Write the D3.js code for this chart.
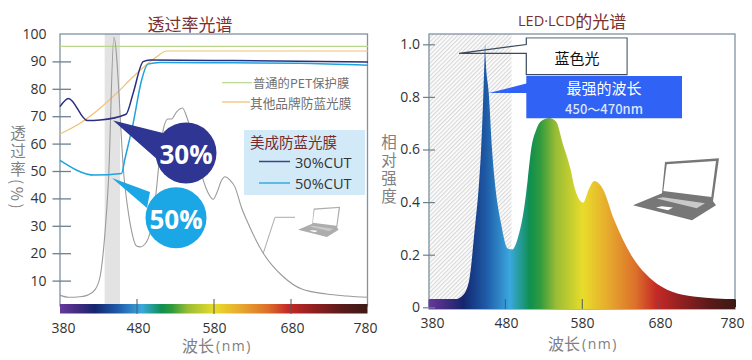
<!DOCTYPE html>
<html>
<head>
<meta charset="utf-8">
<script src="https://cdn.jsdelivr.net/npm/d3@7"></script>
<style>
  html, body { margin: 0; padding: 0; background: #fff; }
  svg { display: block; }
  text { font-family: "Noto Sans CJK SC", "Noto Sans", sans-serif; }
  .num { font-family: "Open Sans", sans-serif; }
  .axis text { font-family: "Open Sans", sans-serif; font-size: 14px; fill: #333; }
  .axis path { display: none; }
</style>
</head>
<body>
<svg id="chart" width="752" height="360"></svg>
<script>
// Tick labels
const waveTicks = [380, 480, 580, 680, 780];
const transTicks = [10, 20, 30, 40, 50, 60, 70, 80, 90, 100];
const intensityTicks = [0, 0.2, 0.4, 0.6, 0.8, 1.0];

// Transmittance chart, values
const pcWave = [380, 391, 406, 416, 425, 432, 438, 443, 450, 463.5, 471, 479.6, 484, 492.5, 501, 505.5, 507.7, 514, 520, 525, 531.5, 539, 544.5, 551, 557.5, 566, 572.6, 579, 583.5, 590, 594, 600.8, 607, 616, 622.5, 644, 670, 694, 726, 752, 780];
const pcValues = [4.7, 3.9, 4.1, 4.7, 6.5, 11.4, 26, 46.7, 98.8, 46.7, 31, 22.6, 22.3, 24.2, 33.3, 44, 50.4, 65, 69, 69, 71.6, 73, 69.8, 63.8, 56.6, 46.7, 41.9, 39.7, 41.9, 46.7, 47.9, 46.7, 44.3, 36.4, 32, 20, 11.4, 6.9, 5.1, 4.4, 3.9];

const cut30Wave = [380, 391, 415.5, 432, 465.7, 475, 488, 497, 605, 780];
const cut30Values = [73.5, 76.5, 68.4, 68.6, 70.7, 78.4, 89.9, 90.5, 90.3, 89.8];

const cut50Wave = [380, 425, 460, 464, 475, 486, 494, 510, 605, 690, 780];
const cut50Values = [53.9, 48.5, 49.1, 54, 67.4, 83.2, 89, 89.6, 89.5, 89.3, 88.6];

const otherWave = [380, 406, 432, 453.6, 475, 505.5, 518.5, 780];
const otherValues = [63.5, 67.4, 72.9, 78.4, 84.4, 91.7, 93.8, 93.8];

const petWave = [380, 780];
const petValues = [95.5, 95.5];

// LED-LCD spectrum
const ledWave = [380, 414, 425, 433, 440, 446, 448.4, 451.4, 452.8, 453.6, 454.4, 458.4, 462.7, 466, 474.4, 483, 489, 496, 504.7, 509, 513.4, 520, 526, 537, 546, 554.5, 565, 569.6, 581, 589, 595.6, 606.5, 621.6, 645, 671, 697, 727.6, 780];
const ledValues = [0.03, 0.03, 0.047, 0.104, 0.294, 0.484, 0.598, 0.814, 0.94, 1.0, 0.94, 0.814, 0.598, 0.484, 0.319, 0.224, 0.22, 0.262, 0.383, 0.484, 0.598, 0.674, 0.706, 0.72, 0.706, 0.624, 0.522, 0.459, 0.398, 0.452, 0.48, 0.452, 0.332, 0.192, 0.104, 0.059, 0.04, 0.03];

// Rainbow colours along the wavelength axis
const rainbowWave = [380, 399, 425, 455, 486, 512, 525, 546, 581, 616, 650, 676, 711, 746, 780];
const rainbowColors = ['#643a9c', '#4b2d85', '#14256e', '#1e5ba8', '#3ba8de', '#0f8f50', '#2f9a3e', '#9abd35', '#e9dc2b', '#e6a62e', '#dc6f2a', '#c52a26', '#8e1f20', '#5a1a1a', '#3d1a15'];

const colors = { pc: '#9a9a9a', cut30: '#2b2f80', cut50: '#1ea3dd', other: '#efc073', pet: '#b9d68c', frame: '#7e93a3', tick: '#6e8090', title: '#7a3030', label: '#808080' };

const svg = d3.select('#chart');
const defs = svg.append('defs');

// Escalas
const xLeft = d3.scaleLinear().domain([380, 780]).range([60, 368]);
const yLeft = d3.scaleLinear().domain([0, 100]).range([308, 34]);
const xRight = d3.scaleLinear().domain([380, 780]).range([428.5, 736]);
const yRight = d3.scaleLinear().domain([0, 1]).range([307.3, 44.3]);

function addGradient(id, x) {
  const grad = defs.append('linearGradient')
    .attr('id', id)
    .attr('gradientUnits', 'userSpaceOnUse')
    .attr('x1', x(380)).attr('x2', x(780)).attr('y1', 0).attr('y2', 0);
  rainbowWave.forEach((w, i) => {
    grad.append('stop')
      .attr('offset', (w - 380) / 400)
      .attr('stop-color', rainbowColors[i]);
  });
}
addGradient('rainbowLeft', xLeft);
addGradient('rainbowRight', xRight);

const hatch = defs.append('pattern')
  .attr('id', 'hatch')
  .attr('width', 3).attr('height', 3)
  .attr('patternUnits', 'userSpaceOnUse')
  .attr('patternTransform', 'rotate(-45)');
hatch.append('rect').attr('width', 3).attr('height', 3).attr('fill', '#fff');
hatch.append('rect').attr('width', 3).attr('height', 1.3).attr('fill', '#d9d9d9');

function zip(wave, values) {
  return wave.map((w, i) => [w, values[i]]);
}

function drawFrame(x0, y0, x1, y1) {
  svg.append('rect')
    .attr('x', x0).attr('y', y0)
    .attr('width', x1 - x0).attr('height', y1 - y0)
    .attr('fill', 'none')
    .attr('stroke', colors.frame)
    .attr('stroke-width', 1.3);
}

// Etiqueta vertical como un solo texto
function drawVerticalLabel(label, x, y) {
  svg.append('text')
    .attr('x', x).attr('y', y)
    .style('writing-mode', 'vertical-rl')
    .style('letter-spacing', '2.5px')
    .attr('font-size', 15.5)
    .attr('fill', colors.label)
    .text(label);
}

function drawWaveLabel(x, y) {
  const t = svg.append('text')
    .attr('x', x).attr('y', y)
    .attr('dominant-baseline', 'central')
    .attr('font-size', 16)
    .attr('fill', colors.label);
  t.append('tspan').text('波长');
  t.append('tspan')
    .attr('dx', 2)
    .style('font-family', '"Open Sans", sans-serif')
    .style('letter-spacing', '1.5px')
    .attr('font-size', 14)
    .text('(nm)');
}

function drawWaveTicks(x, barTop, barBottom, labelXs) {
  const axis = svg.append('g')
    .attr('class', 'axis')
    .attr('transform', `translate(0,${barBottom})`)
    .call(d3.axisBottom(x).tickValues(waveTicks).tickSize(0).tickPadding(8).tickFormat(d3.format('d')));
  axis.selectAll('line').remove();
  axis.selectAll('text').attr('x', (d, i) => labelXs[i] - x(d)).attr('dy', '0.75em');
  svg.selectAll(null)
    .data(waveTicks.slice(1, 4))
    .enter()
    .append('line')
    .attr('x1', d => x(d)).attr('x2', d => x(d))
    .attr('y1', barTop - 5).attr('y2', barBottom)
    .attr('stroke', '#4a5a68')
    .attr('stroke-width', 1);
}

function drawLaptop(px, py, k, body, screen) {
  const g = svg.append('g').attr('transform', `translate(${px},${py}) scale(${k})`);
  g.append('path').attr('fill', body).attr('d', 'M32 3.7L86 0L80 43L83 47L59 62L0 47L29 35Z');
  g.append('path').attr('fill', screen).attr('d', 'M33.7 6L83 2.7L78.3 38.7L30.3 32.7Z');
  g.append('path').attr('fill', '#c9c9c9').attr('d', 'M23.7 40.3L30 39L72 45L63.7 50Z');
  g.append('path').attr('fill', screen).attr('d', 'M23 49.3L28.7 48L40 49.3L35 52Z');
}

// ---- Transmittance chart ----
svg.append('rect')
  .attr('x', xLeft(438)).attr('y', 34)
  .attr('width', xLeft(458) - xLeft(438)).attr('height', 270)
  .attr('fill', '#e3e3e3');

drawFrame(60, 34, 367.5, 306);

svg.append('rect')
  .attr('x', 60).attr('y', 304)
  .attr('width', 307.5).attr('height', 9.5)
  .attr('fill', 'url(#rainbowLeft)');

const lineLeft = d3.line()
  .x(d => xLeft(d[0]))
  .y(d => yLeft(d[1]))
  .curve(d3.curveMonotoneX);

const leftSeries = [
  { data: zip(petWave, petValues), color: colors.pet, width: 1.2 },
  { data: zip(otherWave, otherValues), color: colors.other, width: 1.2 },
  { data: zip(pcWave, pcValues), color: colors.pc, width: 1.1 },
  { data: zip(cut50Wave, cut50Values), color: colors.cut50, width: 1.5 },
  { data: zip(cut30Wave, cut30Values), color: colors.cut30, width: 1.5 }
];
leftSeries.forEach(s => {
  svg.append('path')
    .datum(s.data)
    .attr('d', lineLeft)
    .attr('fill', 'none')
    .attr('stroke', s.color)
    .attr('stroke-width', s.width);
});

const leftAxis = svg.append('g')
  .attr('class', 'axis')
  .attr('transform', 'translate(71,0)')
  .call(d3.axisLeft(yLeft).tickValues(transTicks).tickSize(18.5).tickPadding(6));
leftAxis.selectAll('line').attr('stroke', colors.tick).attr('stroke-width', 1.3);
leftAxis.selectAll('.tick').filter(d => d === 100).select('line').remove();

drawWaveTicks(xLeft, 304, 314, [63, 138, 214, 292, 365]);

// Bocadillos 30% y 50%
function drawBubble(cx, cy, tip, base1, base2, color, label) {
  svg.append('path')
    .attr('d', `M${tip[0]} ${tip[1]}L${base1[0]} ${base1[1]}L${base2[0]} ${base2[1]}Z`)
    .attr('fill', color);
  svg.append('circle').attr('cx', cx).attr('cy', cy).attr('r', 30.5).attr('fill', color);
  svg.append('text')
    .attr('class', 'num')
    .attr('x', cx).attr('y', cy + 1)
    .attr('text-anchor', 'middle')
    .attr('dominant-baseline', 'central')
    .attr('font-size', 26)
    .attr('font-weight', 700)
    .attr('fill', '#fff')
    .text(label);
}
drawBubble(186, 153, [xLeft(449), yLeft(68.4)], [163, 133], [158, 160], '#2e3592', '30%');
drawBubble(176, 217.7, [xLeft(447.5), yLeft(47.4)], [150, 192], [147, 208], '#1ba6e6', '50%');

// Leyenda superior
svg.append('line').attr('x1', 222).attr('x2', 252).attr('y1', 82.7).attr('y2', 82.7).attr('stroke', colors.pet).attr('stroke-width', 1.2);
svg.append('line').attr('x1', 222).attr('x2', 250).attr('y1', 102).attr('y2', 102).attr('stroke', colors.other).attr('stroke-width', 1.2);
svg.append('text').attr('x', 253).attr('y', 83).attr('dominant-baseline', 'central').attr('font-size', 12.3).attr('fill', '#707070').text('普通的PET保护膜');
svg.append('text').attr('x', 250).attr('y', 102).attr('dominant-baseline', 'central').attr('font-size', 12.7).attr('fill', '#707070').text('其他品牌防蓝光膜');

// Leyenda azul
svg.append('rect').attr('x', 244).attr('y', 130).attr('width', 121).attr('height', 65).attr('fill', '#d2e9f7');
svg.append('text').attr('x', 250).attr('y', 141).attr('dominant-baseline', 'central').attr('font-size', 14.5).attr('fill', '#7a2a2a').text('美成防蓝光膜');
svg.append('line').attr('x1', 259).attr('x2', 290).attr('y1', 161.5).attr('y2', 161.5).attr('stroke', '#3c4685').attr('stroke-width', 1.5);
svg.append('line').attr('x1', 259).attr('x2', 290).attr('y1', 183).attr('y2', 183).attr('stroke', colors.cut50).attr('stroke-width', 1.3);
svg.append('text').attr('class', 'num').attr('x', 295).attr('y', 162).attr('dominant-baseline', 'central').attr('font-size', 14.6).attr('fill', '#333').text('30%CUT');
svg.append('text').attr('class', 'num').attr('x', 295).attr('y', 183).attr('dominant-baseline', 'central').attr('font-size', 14.6).attr('fill', '#333').text('50%CUT');

// Portátil pequeño
svg.append('path')
  .attr('d', `M${xLeft(644)} ${yLeft(20)}L275 217.3L295 217.3`)
  .attr('fill', 'none').attr('stroke', '#aaa').attr('stroke-width', 1);
drawLaptop(298, 206.7, 0.49, '#adadad', '#fff');

svg.append('text').attr('x', 190).attr('y', 23).attr('text-anchor', 'middle').attr('dominant-baseline', 'central').attr('font-size', 17).attr('fill', colors.title).text('透过率光谱');
drawWaveLabel(182, 345);
drawVerticalLabel('透过率(%)', 18, 125);

// ---- LED-LCD spectrum ----
svg.append('rect')
  .attr('x', xRight(380)).attr('y', 34)
  .attr('width', xRight(488) - xRight(380)).attr('height', 270)
  .attr('fill', 'url(#hatch)');

drawFrame(429, 34, 735, 309);

const areaRight = d3.area()
  .x(d => xRight(d[0]))
  .y0(yRight(0))
  .y1(d => yRight(d[1]))
  .curve(d3.curveMonotoneX);

svg.append('path')
  .datum(zip(ledWave, ledValues))
  .attr('d', areaRight)
  .attr('fill', 'url(#rainbowRight)');

svg.append('rect')
  .attr('x', 429).attr('y', 299)
  .attr('width', 306).attr('height', 10)
  .attr('fill', 'url(#rainbowRight)');

const rightAxis = svg.append('g')
  .attr('class', 'axis')
  .attr('transform', 'translate(435,0)')
  .call(d3.axisLeft(yRight).tickValues(intensityTicks).tickSize(12).tickPadding(3).tickFormat(d => d === 0 ? '0' : d3.format('.1f')(d)));
rightAxis.selectAll('line').attr('stroke', colors.tick).attr('stroke-width', 1.2);

drawWaveTicks(xRight, 304, 309, [432, 506, 582, 660, 732]);

// Cuadro "蓝色光"
const peakX = xRight(453.6);
svg.append('path')
  .attr('d', `M${peakX - 26} 53.3L526.3 44.5L526.3 38L627 38L627 74.7L526.3 74.7L526.3 53.3Z`)
  .attr('fill', 'none')
  .attr('stroke', '#3b4a5e')
  .attr('stroke-width', 1.2);
svg.append('rect').attr('x', 527).attr('y', 38.7).attr('width', 99.3).attr('height', 35.3).attr('fill', '#fff');
svg.append('text').attr('x', 577).attr('y', 57.5).attr('text-anchor', 'middle').attr('dominant-baseline', 'central').attr('font-size', 15).attr('fill', '#111').text('蓝色光');

// Cuadro "最强的波长"
svg.append('path')
  .attr('d', `M${xRight(458.4)} 93L526.3 83.5L526.3 76L682 76L682 118.3L526.3 118.3L526.3 93Z`)
  .attr('fill', '#2f62f5');
svg.append('text').attr('x', 604).attr('y', 87.5).attr('text-anchor', 'middle').attr('dominant-baseline', 'central').attr('font-size', 15).attr('fill', '#fff').text('最强的波长');
svg.append('text').attr('x', 604).attr('y', 108).attr('text-anchor', 'middle').attr('dominant-baseline', 'central').attr('font-size', 13).attr('font-weight', 500).attr('fill', '#dce6ff').text('450〜470nm');

drawLaptop(633, 158.3, 1, '#777', '#fff');

const rightTitle = svg.append('text').attr('x', 518).attr('y', 20).attr('dominant-baseline', 'central').attr('font-size', 17).attr('fill', colors.title);
rightTitle.append('tspan').style('font-family', '"Open Sans", sans-serif').attr('font-size', 14.5).text('LED·LCD');
rightTitle.append('tspan').text('的光谱');
drawWaveLabel(548, 343);
drawVerticalLabel('相对强度', 389, 134);
</script>
</body>
</html>
